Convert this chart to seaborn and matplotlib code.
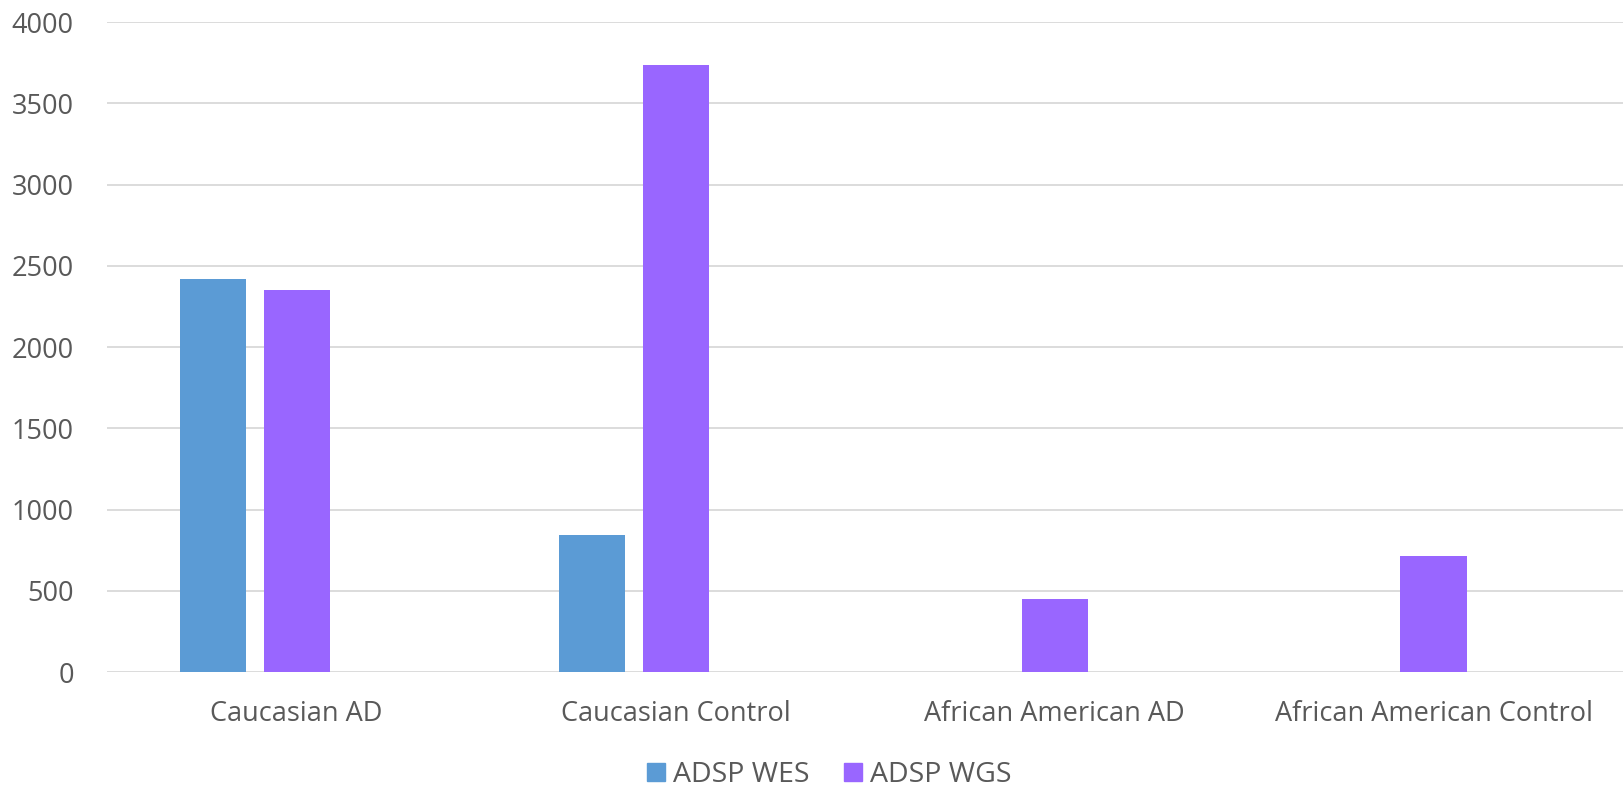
import matplotlib
matplotlib.use("Agg")
import matplotlib.pyplot as plt
import matplotlib.patches as mpatches
import numpy as np
import pandas as pd
import seaborn as sns

CATEGORIES = ["Caucasian AD", "Caucasian Control", "African American AD", "African American Control"]
WES = [2417, 843, np.nan, np.nan]
WGS = [2350, 3735, 449, 713]
SERIES = ["ADSP WES", "ADSP WGS"]
COLORS = {"ADSP WES": "#5B9BD5", "ADSP WGS": "#9966FF", "_empty": "#FFFFFF"}
YTICKS = [0, 500, 1000, 1500, 2000, 2500, 3000, 3500, 4000]

TEXT = "#595959"
GRID = "#D9D9D9"

# Excel reserved a third (empty) series slot, so the WGS bar sits on the category centre
rows = []
for cat, a, b in zip(CATEGORIES, WES, WGS):
    rows.append({"cat": cat, "series": "ADSP WES", "value": a})
    rows.append({"cat": cat, "series": "ADSP WGS", "value": b})
    rows.append({"cat": cat, "series": "_empty", "value": 0.0})
df = pd.DataFrame(rows)

sns.set_theme(style="white")
plt.rcParams["font.family"] = ["Open Sans", "DejaVu Sans"]

fig = plt.figure(figsize=(16.23, 7.89), dpi=100)
ax = fig.add_axes([0.066, 0.148, 0.934, 0.824])

sns.barplot(data=df, x="cat", y="value", hue="series",
            hue_order=["ADSP WES", "ADSP WGS", "_empty"], order=CATEGORIES,
            palette=COLORS, saturation=1, width=0.662, gap=0.21, errorbar=None,
            linewidth=0, ax=ax, legend=False)

ax.set_ylim(0, 4000)
ax.set_xlim(-0.5, len(CATEGORIES) - 0.5)
ax.set_yticks(YTICKS)
ax.yaxis.grid(True, color=GRID, linewidth=1.3)
ax.set_axisbelow(True)
for s in ax.spines.values():
    s.set_visible(False)
ax.set_xlabel("")
ax.set_ylabel("")
ax.tick_params(axis="both", length=0, colors=TEXT, labelsize=19.5)
ax.tick_params(axis="x", pad=20)
ax.tick_params(axis="y", pad=24)

handles = [mpatches.Patch(color=COLORS[s], label=s) for s in SERIES]
fig.legend(handles=handles, loc="center", bbox_to_anchor=(0.511, 0.018), ncol=2,
           frameon=False, fontsize=20.5, labelcolor=TEXT, handlelength=0.62,
           handleheight=0.62, handletextpad=0.3, columnspacing=1.2)

fig.savefig("out.png", dpi=100, facecolor="white")
